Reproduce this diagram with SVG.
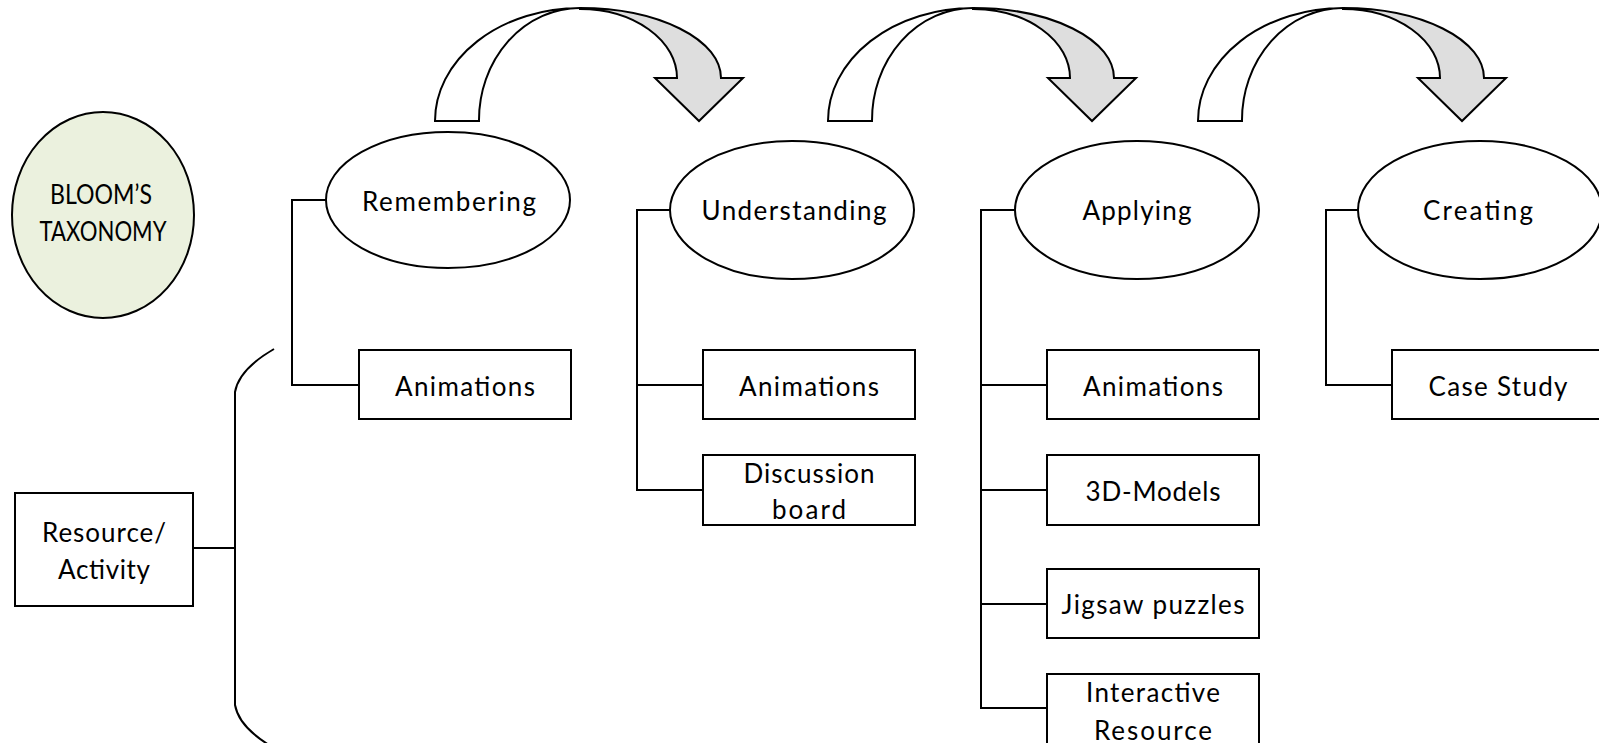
<svg xmlns="http://www.w3.org/2000/svg" width="1599" height="743" viewBox="0 0 1599 743">
  <style>
    .shape { fill: #ffffff; stroke: #000000; stroke-width: 2; }
    .root { fill: #EBF1DE; stroke: #000000; stroke-width: 2; }
    .back { fill: #ffffff; stroke: #000000; stroke-width: 2; stroke-linejoin: miter; }
    .front { fill: #DEDEDE; stroke: #000000; stroke-width: 2; stroke-linejoin: miter; }
    .wire { fill: none; stroke: #000000; stroke-width: 2; }
    .lbl { font-family: Lato, "Liberation Sans", sans-serif; font-size: 26px; fill: #000000; text-anchor: middle; }
  </style>
  <defs>
    <!-- curved "next level" arrow: white back band rising from the base, grey front band ending in the head -->
    <g id="curved-arrow">
      <path class="back" d="M435,121 A145,113 0 0 1 580,8 A101,112 0 0 0 479,121 Z"/>
      <path class="front" d="M580,8 A141,70 0 0 1 721,78 L743,78 L699,121 L655,78 L677,78 A97,69 0 0 0 580,9 Z"/>
    </g>
  </defs>

  <rect width="1599" height="743" fill="#ffffff"/>

  <!-- connectors -->
  <g id="connectors">
    <use href="#curved-arrow"/>
    <use href="#curved-arrow" transform="translate(393,0)"/>
    <use href="#curved-arrow" transform="translate(763,0)"/>
    <!-- bracket joining the resource column to the levels -->
    <path class="wire" d="M274,349 C255,360 238,375 235,392 V705 C238,722 255,737 274,748"/>
    <path class="wire" d="M193,548 H235"/>
    <!-- Remembering -->
    <path class="wire" d="M326,200 H292 V385 H359"/>
    <!-- Understanding -->
    <path class="wire" d="M670,210 H637 V490 H703 M637,385 H703"/>
    <!-- Applying -->
    <path class="wire" d="M1015,210 H981 V708 H1047 M981,385 H1047 M981,490 H1047 M981,604 H1047"/>
    <!-- Creating -->
    <path class="wire" d="M1359,210 H1326 V385 H1392"/>
  </g>

  <g id="blooms-taxonomy">
    <ellipse class="root" cx="103" cy="215" rx="91" ry="103"/>
    <text class="lbl" x="101" y="204" textLength="102" lengthAdjust="spacingAndGlyphs">BLOOM’S</text>
    <text class="lbl" x="103" y="241" textLength="127" lengthAdjust="spacingAndGlyphs">TAXONOMY</text>
  </g>

  <g id="resource-activity">
    <rect class="shape" x="15" y="493" width="178" height="113"/>
    <text class="lbl" x="104" y="542" textLength="124" lengthAdjust="spacing">Resource/</text>
    <text class="lbl" x="104" y="579" textLength="92" lengthAdjust="spacing">Activity</text>
  </g>

  <g id="remembering">
    <ellipse class="shape" cx="448" cy="200" rx="122" ry="68"/>
    <text class="lbl" x="449" y="211" textLength="174" lengthAdjust="spacing">Remembering</text>
  </g>
  <g id="remembering-animations">
    <rect class="shape" x="359" y="350" width="212" height="69"/>
    <text class="lbl" x="465" y="396" textLength="140" lengthAdjust="spacing">Animations</text>
  </g>

  <g id="understanding">
    <ellipse class="shape" cx="792" cy="210" rx="122" ry="69"/>
    <text class="lbl" x="794" y="220" textLength="185" lengthAdjust="spacing">Understanding</text>
  </g>
  <g id="understanding-animations">
    <rect class="shape" x="703" y="350" width="212" height="69"/>
    <text class="lbl" x="809" y="396" textLength="140" lengthAdjust="spacing">Animations</text>
  </g>
  <g id="discussion-board">
    <rect class="shape" x="703" y="455" width="212" height="70"/>
    <text class="lbl" x="809" y="483" textLength="131" lengthAdjust="spacing">Discussion</text>
    <text class="lbl" x="809" y="519" textLength="74" lengthAdjust="spacing">board</text>
  </g>

  <g id="applying">
    <ellipse class="shape" cx="1137" cy="210" rx="122" ry="69"/>
    <text class="lbl" x="1137" y="220" textLength="109" lengthAdjust="spacing">Applying</text>
  </g>
  <g id="applying-animations">
    <rect class="shape" x="1047" y="350" width="212" height="69"/>
    <text class="lbl" x="1153" y="396" textLength="140" lengthAdjust="spacing">Animations</text>
  </g>
  <g id="models-3d">
    <rect class="shape" x="1047" y="455" width="212" height="70"/>
    <text class="lbl" x="1153" y="501" textLength="135" lengthAdjust="spacing">3D-Models</text>
  </g>
  <g id="jigsaw-puzzles">
    <rect class="shape" x="1047" y="569" width="212" height="69"/>
    <text class="lbl" x="1153" y="614" textLength="183" lengthAdjust="spacing">Jigsaw puzzles</text>
  </g>
  <g id="interactive-resource">
    <rect class="shape" x="1047" y="674" width="212" height="72"/>
    <text class="lbl" x="1153" y="702" textLength="134" lengthAdjust="spacing">Interactive</text>
    <text class="lbl" x="1153" y="740" textLength="118" lengthAdjust="spacing">Resource</text>
  </g>

  <g id="creating">
    <ellipse class="shape" cx="1480" cy="210" rx="122" ry="69"/>
    <text class="lbl" x="1478" y="220" textLength="110" lengthAdjust="spacing">Creating</text>
  </g>
  <g id="case-study">
    <rect class="shape" x="1392" y="350" width="212" height="69"/>
    <text class="lbl" x="1498" y="396" textLength="139" lengthAdjust="spacing">Case Study</text>
  </g>
</svg>
